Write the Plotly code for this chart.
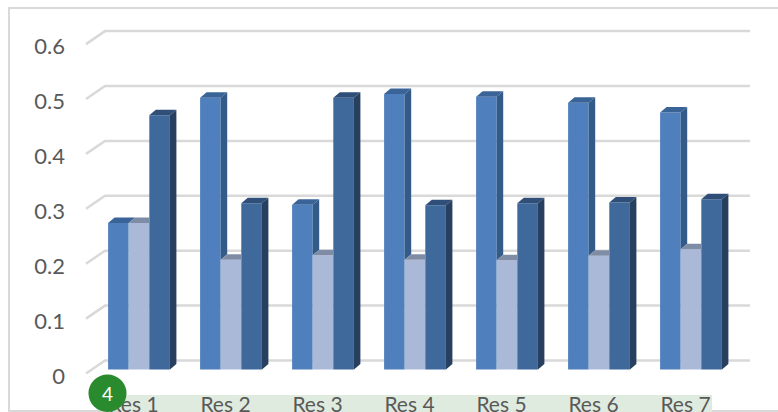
import plotly.graph_objects as go

categories = ["Res 1", "Res 2", "Res 3", "Res 4", "Res 5", "Res 6", "Res 7"]
series_a = [0.267, 0.495, 0.300, 0.502, 0.497, 0.486, 0.468]
series_b = [0.267, 0.200, 0.208, 0.200, 0.199, 0.207, 0.219]
series_c = [0.463, 0.303, 0.495, 0.299, 0.303, 0.304, 0.310]
y_ticks = [0, 0.1, 0.2, 0.3, 0.4, 0.5, 0.6]
y_tick_labels = ["0", "0.1", "0.2", "0.3", "0.4", "0.5", "0.6"]
badge_text = "4"

W, H = 778, 412
L, B = 72, 22            # plot area margins
X0_PX, X_STEP = 139, 92  # pixel of first category, pixels per category
Y0_PX, Y_STEP = 376, 549  # pixel of the axis zero, pixels per unit
to_x = lambda px: (px - X0_PX) / X_STEP
to_y = lambda px: (Y0_PX - px) / Y_STEP
pap_x = lambda px: (px - L) / (W - L)
pap_y = lambda px: (H - B - px) / (H - B)

FLOOR = 6.5 / Y_STEP        # bars stand slightly above the axis zero
BAR_W = 20.6 / X_STEP
DX, DY = 6.5 / X_STEP, 5.5 / Y_STEP
GX, GY = 19 / X_STEP, 13 / Y_STEP
GRID_LIFT = 2.5 / Y_STEP    # front ends of gridlines sit just above their labels
GRID_L, GRID_R = to_x(86), to_x(750)
LABEL_SHIFT = 5.5 / X_STEP

fronts = ["#4F80BD", "#A9B9D7", "#3F699B"]
tops = ["#3A6497", "#7F8CA6", "#2F4F78"]
sides = ["#345A88", "#5A6D8C", "#27405F"]

all_series = [series_a, series_b, series_c]
fig = go.Figure()

for s, (vals, col) in enumerate(zip(all_series, fronts)):
    fig.add_bar(x=list(range(len(categories))), y=vals, base=FLOOR,
                marker=dict(color=col, line_width=0), showlegend=False,
                hoverinfo="skip")


def poly(xs, ys, color):
    fig.add_scatter(x=xs + xs[:1], y=ys + ys[:1], mode="lines", fill="toself",
                    fillcolor=color, line=dict(width=0), showlegend=False,
                    hoverinfo="skip")


for k in range(len(categories)):
    for s in range(3):
        left = k + (s - 1.5) * BAR_W
        right = left + BAR_W
        top = all_series[s][k] + FLOOR
        nxt = all_series[s + 1][k] + FLOOR if s < 2 else None
        if nxt is not None and nxt >= top + DY:
            poly([left, right, right, left + DX], [top, top, top + DY, top + DY], tops[s])
        else:
            poly([left, right, right + DX, left + DX], [top, top, top + DY, top + DY], tops[s])
        if s == 2:
            poly([right, right, right + DX, right + DX],
                 [FLOOR, top, top + DY, FLOOR + DY], sides[s])
        elif nxt < top:
            poly([right, right, right + DX, right + DX],
                 [nxt, top, top + DY, nxt + DY], sides[s])

shapes = []
for t in y_ticks:
    y0 = t + GRID_LIFT
    shapes.append(dict(type="path", xref="x", yref="y", layer="below",
                       path=f"M{GRID_L},{y0} L{GRID_L + GX},{y0 + GY} L{GRID_R},{y0 + GY}",
                       line=dict(color="#D9D9D9", width=2.5)))
# chart frame
shapes.append(dict(type="path", xref="paper", yref="paper", layer="below",
                   path=f"M{pap_x(778)},{pap_y(411)} L{pap_x(9)},{pap_y(411)} "
                        f"L{pap_x(9)},{pap_y(8)} L{pap_x(778)},{pap_y(8)}",
                   line=dict(color="#D9D9D9", width=2)))
# highlight band behind the category labels
shapes.append(dict(type="rect", xref="paper", yref="paper", layer="below",
                   x0=pap_x(120), x1=pap_x(712), y0=pap_y(412), y1=pap_y(395),
                   fillcolor="#DFEBDF", line_width=0))
# numbered badge
shapes.append(dict(type="circle", xref="paper", yref="paper", layer="above",
                   x0=pap_x(88.5), x1=pap_x(126.5), y0=pap_y(412), y1=pap_y(374.5),
                   fillcolor="#2A8A2E", line_width=0))

fig.update_layout(
    width=W, height=H, autosize=False,
    margin=dict(l=L, r=0, t=0, b=B, pad=0),
    paper_bgcolor="white", plot_bgcolor="rgba(0,0,0,0)",
    barmode="group", bargap=1 - 3 * BAR_W, bargroupgap=0,
    font=dict(family="Lato", size=20, color="#595959"),
    shapes=shapes, showlegend=False,
    annotations=[dict(text=badge_text, xref="paper", yref="paper", x=pap_x(107.5),
                      y=pap_y(393), showarrow=False, xanchor="center", yanchor="middle",
                      font=dict(size=19, color="white", family="Lato"))],
    xaxis=dict(range=[to_x(L), to_x(W)], tickmode="array", automargin=False,
               tickvals=[k - LABEL_SHIFT for k in range(len(categories))],
               ticktext=categories,
               showgrid=False, zeroline=False, showline=False, ticks="",
               ticklabelstandoff=0,
               tickfont=dict(size=21, color="#595959")),
    yaxis=dict(range=[to_y(H - B), to_y(0)], tickmode="array", tickvals=y_ticks,
               automargin=False,
               ticktext=y_tick_labels, showgrid=False, zeroline=False,
               showline=False, ticks="", ticklabelstandoff=6,
               tickfont=dict(size=22, color="#595959")),
)
fig.write_html("out.html", config={"displayModeBar": False},
               post_script="document.body.style.margin='0';")
